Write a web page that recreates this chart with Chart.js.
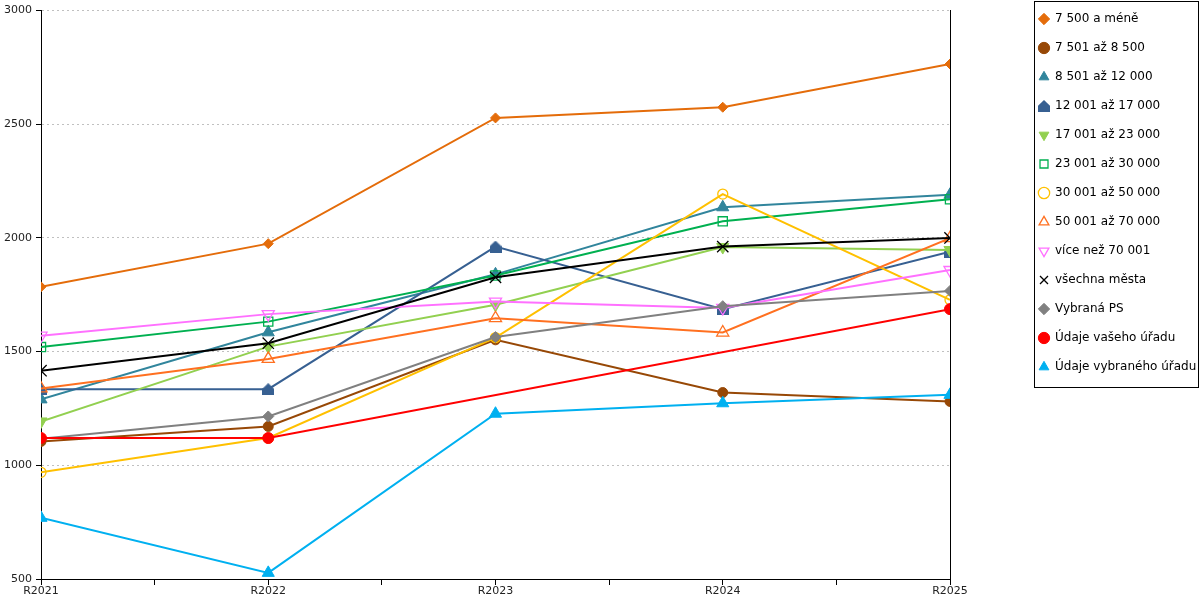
<!DOCTYPE html>
<html>
<head>
<meta charset="utf-8">
<script src="https://cdn.jsdelivr.net/npm/chart.js@4/dist/chart.umd.min.js"></script>
<style>
  body { margin: 0; background: #fff; }
  #wrap { width: 1200px; height: 600px; }
</style>
</head>
<body>
<div id="wrap"><canvas id="cenyChart" width="1200" height="600"></canvas></div>
<script>
// Data
const categories = ["R2021", "R2022", "R2023", "R2024", "R2025"];
const seriesNames = [
  "7 500 a méně", "7 501 až 8 500", "8 501 až 12 000", "12 001 až 17 000",
  "17 001 až 23 000", "23 001 až 30 000", "30 001 až 50 000", "50 001 až 70 000",
  "více než 70 001", "všechna města", "Vybraná PS", "Údaje vašeho úřadu",
  "Údaje vybraného úřadu",
];
const do7500 = [1785, 1975, 2528, 2575, 2765];
const do8500 = [1105, 1171, 1552, 1320, 1281];
const do12000 = [1290, 1585, 1840, 2135, 2190];
const do17000 = [1335, 1335, 1962, 1687, 1940];
const do23000 = [1193, 1522, 1706, 1960, 1947];
const do30000 = [1520, 1632, 1835, 2073, 2170];
const do50000 = [969, 1120, 1562, 2193, 1728];
const do70000 = [1338, 1468, 1647, 1584, 1999];
const nad70000 = [1570, 1665, 1720, 1692, 1859];
const vsechnaMesta = [1416, 1537, 1827, 1962, 2000];
const vybranaPS = [1117, 1215, 1564, 1700, 1767];
const vasUrad = [1120, 1120, null, null, 1687];
const vybranyUrad = [769, 527, 1227, 1273, 1310];
const yMin = 500, yMax = 3000, yStep = 500;

const seriesValues = [do7500, do8500, do12000, do17000, do23000, do30000,
  do50000, do70000, nad70000, vsechnaMesta, vybranaPS, vasUrad, vybranyUrad];

// "house" marker for 12 001 - 17 000
function houseMarker(color, s) {
  const c = document.createElement("canvas");
  c.width = s;
  c.height = s;
  const g = c.getContext("2d");
  g.fillStyle = color;
  g.beginPath();
  g.moveTo(s / 2, 0);
  g.lineTo(s, s * 0.48);
  g.lineTo(s, s);
  g.lineTo(0, s);
  g.lineTo(0, s * 0.48);
  g.closePath();
  g.fill();
  return c;
}

const markers = [
  { color: "#E46C0A", style: "rectRot", r: 5, open: false },
  { color: "#974806", style: "circle", r: 5, open: false },
  { color: "#31859C", style: "triangle", r: 7, open: false },
  { color: "#376092", style: houseMarker("#376092", 12), r: 6, open: false },
  { color: "#92D050", style: "triangle", r: 7, open: false, rot: 180 },
  { color: "#00B050", style: "rect", r: 6.5, open: true },
  { color: "#FFC000", style: "circle", r: 5, open: true },
  { color: "#FF7020", style: "triangle", r: 7, open: true },
  { color: "#FF70FF", style: "triangle", r: 7, open: true, rot: 180 },
  { color: "#000000", style: "crossRot", r: 8, open: true },
  { color: "#808080", style: "rectRot", r: 5.5, open: false },
  { color: "#FF0000", style: "circle", r: 5.5, open: false },
  { color: "#00B0F0", style: "triangle", r: 7, open: false },
];

const datasets = seriesNames.map((name, i) => {
  const m = markers[i];
  return {
    label: name,
    data: seriesValues[i].map((v, j) => ({ x: j, y: v })),
    borderColor: m.color,
    borderWidth: 2,
    pointStyle: m.style,
    pointRadius: m.r,
    pointRotation: m.rot || 0,
    pointBorderColor: m.color,
    pointBackgroundColor: m.open ? "rgba(255,255,255,0)" : m.color,
    pointBorderWidth: m.open ? 1.3 : 1,
    spanGaps: true,
    tension: 0,
    order: -i,
  };
});

// legend placement + frame, right edge line handled by y2 axis
const LEGEND_W = 178;
const legendFrame = {
  id: "legendFrame",
  beforeInit(chart) {
    const fit = chart.legend.fit;
    chart.legend.fit = function () {
      fit.call(this);
      this.width = LEGEND_W;
    };
  },
  afterLayout(chart) {
    const lg = chart.legend;
    lg.top = -4;
    lg.bottom = lg.top + lg.height;
  },
  afterDraw(chart) {
    const ctx = chart.ctx;
    const lg = chart.legend;
    ctx.save();
    ctx.strokeStyle = "#000";
    ctx.lineWidth = 1;
    ctx.strokeRect(lg.left + 12.5, 1.5, 164, 386);
    ctx.restore();
  },
};

Chart.defaults.font.family = "'DejaVu Sans', Verdana, sans-serif";
Chart.defaults.color = "#222";

new Chart(document.getElementById("cenyChart").getContext("2d"), {
  type: "line",
  data: { datasets: datasets },
  options: {
    responsive: false,
    animation: false,
    layout: { padding: { top: 10, left: 0, right: 0, bottom: 0 } },
    plugins: {
      legend: {
        position: "right",
        align: "start",
        reverse: true,
        labels: {
          usePointStyle: true,
          boxWidth: 10,
          boxHeight: 8,
          padding: 17,
          color: "#000",
          font: { size: 12 },
        },
      },
      tooltip: { enabled: false },
    },
    scales: {
      x: {
        type: "linear",
        min: 0,
        max: categories.length - 1,
        afterFit: (s) => { s.height = 21; },
        grid: { drawOnChartArea: false, tickLength: 6, color: "#000" },
        border: { color: "#000", width: 1 },
        ticks: {
          stepSize: 0.5,
          autoSkip: false,
          maxRotation: 0,
          padding: 0,
          font: { size: 11 },
          callback: (v) => (Number.isInteger(v) ? categories[v] : ""),
        },
      },
      y: {
        min: yMin,
        max: yMax,
        afterFit: (s) => { s.width = 41; },
        grid: { color: "#c0c0c0", tickColor: "#000", tickLength: 5 },
        border: { color: "#000", width: 1, dash: [2, 3] },
        ticks: {
          stepSize: yStep,
          padding: 4,
          font: { size: 11 },
          callback: (v) => String(v),
        },
      },
      y2: {
        position: "right",
        afterFit: (s) => { s.width = 72; },
        grid: { display: false },
        border: { color: "#000", width: 1 },
        ticks: { display: false },
      },
    },
  },
  plugins: [legendFrame],
});
</script>
</body>
</html>
